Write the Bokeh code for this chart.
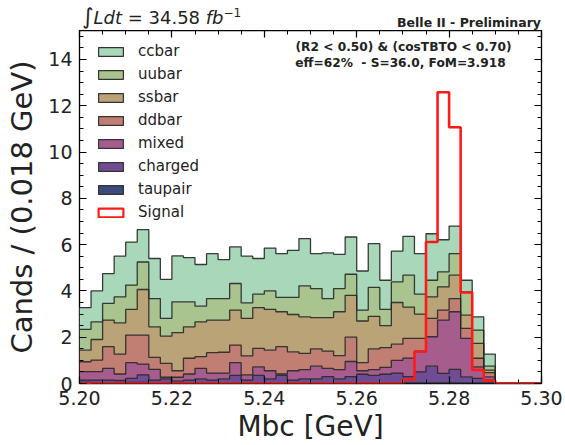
import numpy as np
from bokeh.plotting import figure
from bokeh.layouts import column
from bokeh.models import (Range1d, LinearAxis, Label, Legend, LegendItem, Div,
                          SingleIntervalTicker, NumeralTickFormatter, CustomJSTickFormatter)
from bokeh.embed import file_html
from bokeh.resources import INLINE

# ---------------- data ----------------
x_lo, x_hi, bin_width = 5.20, 5.30, 0.0025   # 40 bins of Mbc

taupair = [0.05, 0.04, 0.03, 0.03, 0.05, 0.05, 0.03, 0.03, 0.03, 0.03,
           0.03, 0.03, 0.03, 0.03, 0.03, 0.03, 0.03, 0.03, 0.03, 0.03,
           0.03, 0.03, 0.03, 0.03, 0.03, 0.03, 0.03, 0.03, 0.03, 0.03,
           0.03, 0.03, 0.03, 0.03, 0.03, 0.03, 0, 0, 0, 0]
charged = [0.10, 0.11, 0.12, 0.10, 0.17, 0.32, 0.12, 0.17, 0.07, 0.12,
           0.17, 0.12, 0.17, 0.32, 0.12, 0.32, 0.17, 0.32, 0.12, 0.17,
           0.17, 0.27, 0.17, 0.27, 0.37, 0.32, 0.37, 0.42, 0.27, 0.47,
           0.72, 0.41, 0.58, 0.26, 0.19, 0.12, 0, 0, 0, 0]
mixed = [0.36, 0.36, 0.50, 0.28, 0.68, 0.47, 0.46, 0.07, 0.17, 0.26,
         0.45, 0.30, 0.25, 0.55, 0.22, 0.37, 0.35, 0.06, 0.40, 0.40,
         0.55, 0.35, 0.40, 0.65, 0.15, 0.25, 0.30, 0.55, 0.80, 0.90,
         1.27, 2.30, 2.49, 1.66, 0.50, 0.14, 0, 0, 0, 0]
ddbar = [0.43, 0.50, 0.94, 0.86, 1.19, 1.25, 0.52, 0.60, 0.28, 0.68,
         0.51, 0.88, 0.90, 0.76, 0.82, 0.80, 0.89, 1.18, 0.82, 0.70,
         0.75, 0.75, 0.60, 1.05, 0.35, 0.90, 0.85, 0.70, 0.85, 0.55,
         0.79, 0.43, 0.57, 0.43, 0.37, 0.18, 0, 0, 0, 0]
ssbar = [0.50, 0.89, 1.15, 1.35, 1.11, 1.97, 1.32, 1.18, 1.65, 1.36,
         1.50, 1.41, 1.39, 1.51, 1.62, 1.76, 1.76, 1.51, 1.61, 1.58,
         1.35, 1.45, 1.90, 1.81, 1.80, 1.40, 0.95, 1.80, 1.35, 1.05,
         0.93, 1.00, 1.01, 0.57, 0.64, 0.11, 0, 0, 0, 0]
uubar = [0.90, 0.76, 0.72, 1.12, 1.05, 1.19, 1.22, 0.76, 1.33, 1.08,
         0.68, 0.93, 0.93, 1.15, 0.67, 0.58, 0.80, 0.62, 0.74, 1.34,
         1.25, 0.82, 1.00, 0.91, 0.47, 1.25, 0.70, 0.89, 1.38, 0.86,
         0.72, 0.65, 0.93, 1.01, 0.58, 0.17, 0, 0, 0, 0]
ccbar = [0.94, 1.34, 1.29, 1.76, 1.86, 1.40, 1.73, 1.69, 1.98, 1.91,
         1.80, 1.94, 1.68, 1.58, 2.02, 1.54, 1.85, 1.89, 2.03, 2.04,
         1.51, 1.97, 1.48, 1.61, 1.69, 1.89, 1.26, 1.33, 1.68, 1.75,
         2.01, 1.39, 1.19, 0.50, 0.57, 0.52, 0, 0, 0, 0]
signal = [0] * 28 + [0.17, 1.37, 6.11, 12.58, 11.07, 3.93, 0.58, 0.12, 0, 0, 0, 0]

stack_names = ["taupair", "charged", "mixed", "ddbar", "ssbar", "uubar", "ccbar"]
stack_values = [taupair, charged, mixed, ddbar, ssbar, uubar, ccbar]
colors = {"ccbar": "#a8d8b9", "uubar": "#a9c48f", "ssbar": "#baa377",
          "ddbar": "#c17f74", "mixed": "#a65c8c", "charged": "#6f4c94",
          "taupair": "#3b4a7e"}
legend_order = ["ccbar", "uubar", "ssbar", "ddbar", "mixed", "charged", "taupair"]

# ---------------- figure ----------------
FONT = "DejaVu Sans"
TOP_H = 30
p = figure(width=565, height=445 - TOP_H, output_backend="svg", toolbar_location=None,
           x_range=Range1d(x_lo, x_hi), y_range=Range1d(0, 15.25),
           min_border_left=79, min_border_right=24, min_border_top=0,
           min_border_bottom=61, background_fill_color="white",
           border_fill_color="white", margin=(0, 0, 0, 0))
p.grid.visible = False
p.outline_line_color = "black"
p.outline_line_width = 1.3

n_bins = len(ccbar)
xs = x_lo + bin_width * np.arange(n_bins + 1)

# legend proxies (zero-height boxes on the baseline of the first bin)
items = []
for name in legend_order:
    r = p.quad(left=[xs[0]], right=[xs[1]], top=[0], bottom=[0], fill_color=colors[name],
               line_color="#333333", line_width=1.2)
    items.append(LegendItem(label=name, renderers=[r]))
rs = p.quad(left=[xs[0]], right=[xs[1]], top=[0], bottom=[0], fill_color="white",
            line_color="#ff1a1a", line_width=2.2)
items.append(LegendItem(label="Signal", renderers=[rs]))

cum = np.zeros(n_bins)
levels = []
for name, vals in zip(stack_names, stack_values):
    lower = cum.copy()
    cum = cum + np.asarray(vals, dtype=float)
    levels.append((name, lower, cum.copy()))

for name, lower, upper in levels:
    lo = np.append(lower, lower[-1])
    up = np.append(upper, upper[-1])
    p.varea_step(x=xs, y1=lo, y2=up, step_mode="after", fill_color=colors[name])
for name, lower, upper in levels:
    up = np.append(upper, upper[-1])
    p.step(x=xs, y=up, mode="after", line_color="#262626", line_width=1.3, line_alpha=0.9)

sig = np.asarray(signal, dtype=float)
p.step(x=xs, y=np.append(sig, sig[-1]), mode="after", line_color="#ff1a1a", line_width=2.6)

legend = Legend(items=items, location=(16, 161), orientation="vertical",
                glyph_width=31, glyph_height=11, label_height=20, spacing=3,
                padding=0, margin=0, label_standoff=12,
                label_text_font=FONT, label_text_font_size="15px",
                label_text_color="#222222",
                border_line_color=None, background_fill_alpha=0)
p.add_layout(legend, "center")

# axes
def style_axis(ax, ticker, labels=True):
    ax.ticker = ticker
    ax.axis_line_color = None
    ax.major_tick_in = 7
    ax.major_tick_out = 0
    ax.minor_tick_in = 4
    ax.minor_tick_out = 0
    ax.major_tick_line_color = "black"
    ax.minor_tick_line_color = "black"
    ax.major_tick_line_width = 1.2
    ax.minor_tick_line_width = 1.0
    if labels:
        ax.major_label_text_font = FONT
        ax.major_label_text_font_size = "19px"
        ax.major_label_text_color = "#222222"
        ax.axis_label_text_font = FONT
        ax.axis_label_text_font_style = "normal"
        ax.axis_label_text_color = "#222222"
    else:
        ax.formatter = CustomJSTickFormatter(code="return ''")
        ax.major_label_standoff = 0

style_axis(p.xaxis[0], SingleIntervalTicker(interval=0.02, num_minor_ticks=4))
style_axis(p.yaxis[0], SingleIntervalTicker(interval=2, num_minor_ticks=4))
p.xaxis[0].formatter = NumeralTickFormatter(format="0.00")
p.xaxis[0].axis_label = "Mbc [GeV]"
p.xaxis[0].axis_label_text_font_size = "28px"
p.xaxis[0].major_label_standoff = 7
p.xaxis[0].axis_label_standoff = 2
p.yaxis[0].axis_label = "Cands / (0.018 GeV)"
p.yaxis[0].axis_label_text_font_size = "29px"
p.yaxis[0].major_label_standoff = 7
p.yaxis[0].axis_label_standoff = 6

top_ax = LinearAxis()
style_axis(top_ax, SingleIntervalTicker(interval=0.02, num_minor_ticks=4), labels=False)
p.add_layout(top_ax, "above")
right_ax = LinearAxis()
style_axis(right_ax, SingleIntervalTicker(interval=2, num_minor_ticks=4), labels=False)
p.add_layout(right_ax, "right")

# texts inside the frame
p.add_layout(Label(x=324, y=337, x_units="screen", y_units="screen",
                   text="(R2 < 0.50) & (cosTBTO < 0.70)", text_font=FONT,
                   text_font_size="12.2px", text_font_style="bold", text_color="#222222",
                   text_baseline="middle", text_align="center"))
p.add_layout(Label(x=321, y=320.5, x_units="screen", y_units="screen",
                   text="eff=62%\u00a0\u00a0- S=36.0, FoM=3.918", text_font=FONT,
                   text_font_size="12.2px", text_font_style="bold", text_color="#222222",
                   text_baseline="middle", text_align="center"))

# texts above the frame
header = Div(
    text=("<div style=\"position:relative;width:565px;height:%dpx;"
          "font-family:'DejaVu Sans';color:#222222;\">"
          "<span style=\"position:absolute;left:82px;top:1px;font-size:18px;white-space:nowrap;\">"
          "<span style=\"font-size:22px;\">∫</span><i>Ldt</i> = 34.58 <i>fb</i>"
          "<sup style=\"font-size:12px;\">−1</sup></span>"
          "<span style=\"position:absolute;right:24px;top:14px;font-size:12.5px;"
          "font-weight:bold;white-space:nowrap;\">Belle II - Preliminary</span></div>") % TOP_H,
    width=565, height=TOP_H, margin=(0, 0, 0, 0))

layout = column(header, p, spacing=0, margin=(0, 0, 0, 0))
open("out.html", "w").write(file_html(layout, INLINE))
